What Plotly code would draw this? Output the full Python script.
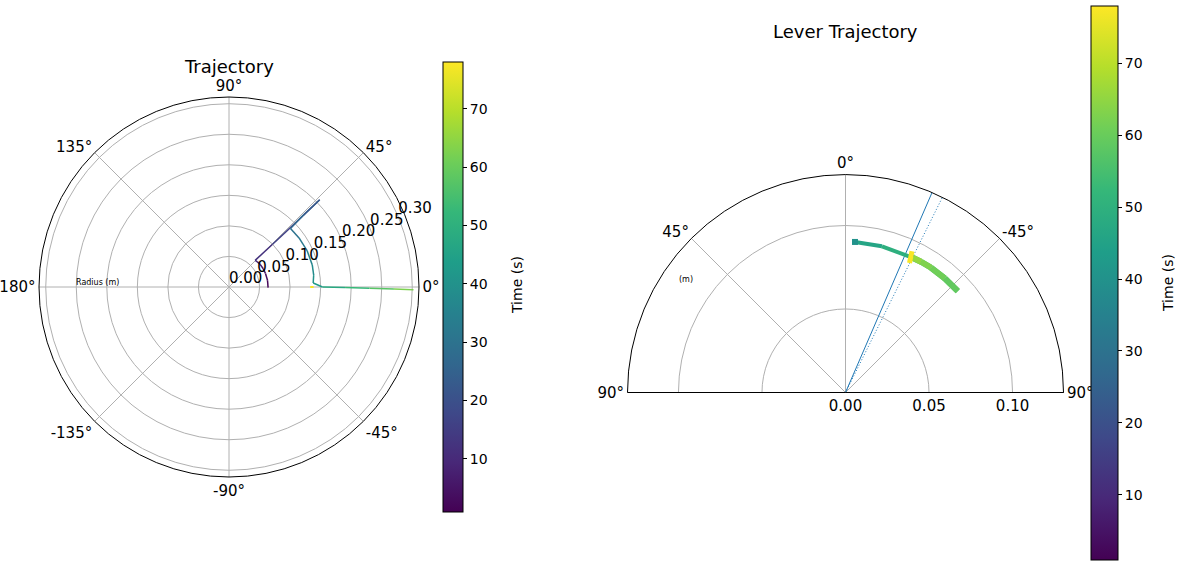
import plotly.graph_objects as go
from plotly.colors import sample_colorscale

# ---------------- data ----------------
T_MIN, T_MAX = 0.9, 78.0
cbar_ticks = [10, 20, 30, 40, 50, 60, 70]

# Left: end-effector trajectory (theta in deg, r in m, time in s)
traj_theta = [-1, 10, 20, 28, 36, 42, 45.5, 44.5, 44, 43.9, 44, 43.6, 43.6, 35, 25, 15, 8, 2.7, 0, -0.3, -0.5, -0.7, -0.85]
traj_r     = [0.064, 0.064, 0.0637, 0.0635, 0.063, 0.062, 0.061, 0.10, 0.15, 0.206, 0.17, 0.139, 0.139, 0.140, 0.141, 0.141, 0.140, 0.138, 0.153, 0.19, 0.23, 0.27, 0.302]
traj_time  = [1, 3, 4.5, 6, 7.5, 9, 10, 14, 18, 21, 25, 28, 29, 31, 34, 37, 39, 41, 45, 50, 55, 60, 65]
traj_end_theta = [0, 0]
traj_end_r     = [0.1385, 0.133]
traj_end_time  = [77, 78]

# Right: lever trajectory
lever_theta = [-3.6, -14, -25.5, -30, -34.5, -41, -47.9, -41, -34.5, -30, -26.6]
lever_r     = [0.0903, 0.0902, 0.0900, 0.0904, 0.0906, 0.0906, 0.0906, 0.0906, 0.0906, 0.0904, 0.0902]
lever_time  = [44, 48, 51, 53, 55, 57, 58, 60, 62, 64, 67]
lever_width = [4, 4, 6, 6, 6, 6, 6, 6, 6, 6]
lever_end_theta = [-25.2, -26.3]
lever_end_r     = [0.0935, 0.0865]
lever_end_time  = [77, 78]
ref_theta = [-23.4, -26.4]
ref_r_max = [0.1305, 0.1305]
ref_dash = ["solid", "1px,2px"]

left_r_max = 0.311
right_r_max = 0.1305
left_ang_vals = [0, 45, 90, 135, 180, 225, 270, 315]
left_ang_text = ["0°", "45°", "90°", "135°", "180°", "-135°", "-90°", "-45°"]
left_r_ticks = [0.00, 0.05, 0.10, 0.15, 0.20, 0.25, 0.30]
right_ang_vals = [-90, -45, 0, 45, 90]
right_ang_text = ["90°", "-45°", "0°", "45°", "90°"]
right_r_ticks = [0.00, 0.05, 0.10]

FONT = "DejaVu Sans"
GRID = "#b0b0b0"
LEFT_RLABEL_ANGLE = 22.5


def tcolor(t):
    return sample_colorscale("Viridis", [(t - T_MIN) / (T_MAX - T_MIN)])[0]


fig = go.Figure()


def add_path(th, rr, tt, subplot, widths=None, default_w=1.5):
    for i in range(len(th) - 1):
        w = widths[i] if widths else default_w
        fig.add_trace(go.Scatterpolar(
            theta=[th[i], th[i + 1]], r=[rr[i], rr[i + 1]], mode="lines",
            line=dict(color=tcolor((tt[i] + tt[i + 1]) / 2), width=w),
            subplot=subplot, showlegend=False, hoverinfo="skip"))


add_path(traj_theta, traj_r, traj_time, "polar")
add_path(traj_end_theta, traj_end_r, traj_end_time, "polar", default_w=2)

for th, rm, d in zip(ref_theta, ref_r_max, ref_dash):
    fig.add_trace(go.Scatterpolar(theta=[th, th], r=[0, rm], mode="lines",
                                  line=dict(color="#1f77b4", width=1, dash=d),
                                  subplot="polar2", showlegend=False, hoverinfo="skip"))

add_path(lever_theta, lever_r, lever_time, "polar2", widths=lever_width)
add_path(lever_end_theta, lever_end_r, lever_end_time, "polar2", default_w=5)
fig.add_trace(go.Scatterpolar(theta=[lever_theta[0]], r=[lever_r[0]], mode="markers",
                              marker=dict(symbol="square", size=6, color=tcolor(40)),
                              subplot="polar2", showlegend=False, hoverinfo="skip"))

tickfont = dict(family=FONT, size=15, color="black")

# radial tick labels (matplotlib-style, to the upper right of each ring)
fig.add_trace(go.Scatterpolar(theta=[LEFT_RLABEL_ANGLE] * len(left_r_ticks), r=left_r_ticks,
                              mode="text", text=[f"{v:.2f}" for v in left_r_ticks],
                              textposition="top right", textfont=tickfont, cliponaxis=False,
                              subplot="polar", showlegend=False, hoverinfo="skip"))

# colorbars
cb_common = dict(xanchor="left", xpad=0, ypad=0, lenmode="pixels", thicknessmode="pixels",
                 outlinewidth=1, outlinecolor="black", ticks="outside", ticklen=4,
                 tickcolor="black", tickvals=cbar_ticks,
                 tickfont=dict(family=FONT, size=14, color="black"))
fig.add_trace(go.Scatterpolar(theta=[0, 0], r=[0, 0], mode="markers",
                              marker=dict(size=1, opacity=0, color=[T_MIN, T_MAX], colorscale="Viridis",
                                          cmin=T_MIN, cmax=T_MAX, showscale=True,
                                          colorbar=dict(x=443 / 1181, y=(561 - 287) / 561, len=450,
                                                        thickness=20, **cb_common)),
                              subplot="polar", showlegend=False, hoverinfo="skip"))
fig.add_trace(go.Scatterpolar(theta=[0, 0], r=[0, 0], mode="markers",
                              marker=dict(size=1, opacity=0, color=[T_MIN, T_MAX], colorscale="Viridis",
                                          cmin=T_MIN, cmax=T_MAX, showscale=True,
                                          colorbar=dict(x=1091 / 1181, y=(561 - 283) / 561, len=554,
                                                        thickness=27, **cb_common)),
                              subplot="polar2", showlegend=False, hoverinfo="skip"))


def ann(text, x, y, size, angle=0):
    return dict(text=text, x=x / 1181, y=(561 - y) / 561, xref="paper", yref="paper",
                showarrow=False, xanchor="center", yanchor="middle", textangle=angle,
                font=dict(family=FONT, size=size, color="black"))


fig.update_layout(
    width=1181, height=561, margin=dict(l=0, r=0, t=0, b=0),
    paper_bgcolor="white", plot_bgcolor="white",
    font=dict(family=FONT, size=14, color="black"),
    polar=dict(
        domain=dict(x=[39 / 1181, 419 / 1181], y=[(561 - 477) / 561, (561 - 97) / 561]),
        bgcolor="white",
        angularaxis=dict(rotation=0, direction="counterclockwise", tickmode="array",
                         tickvals=left_ang_vals, ticktext=left_ang_text, ticks="",
                         showline=True, linecolor="black", linewidth=1,
                         gridcolor=GRID, gridwidth=0.8, tickfont=tickfont),
        radialaxis=dict(range=[0, left_r_max], tickmode="array", tickvals=left_r_ticks,
                        showticklabels=False, angle=LEFT_RLABEL_ANGLE,
                        showline=False, ticks="", gridcolor=GRID, gridwidth=0.8),
    ),
    polar2=dict(
        domain=dict(x=[627.5 / 1181, 1063.5 / 1181], y=[(561 - 392.5) / 561, (561 - 174.5) / 561]),
        bgcolor="white", sector=[0, 180],
        angularaxis=dict(rotation=90, direction="counterclockwise", tickmode="array",
                         tickvals=right_ang_vals, ticktext=right_ang_text, ticks="",
                         showline=True, linecolor="black", linewidth=1,
                         gridcolor=GRID, gridwidth=0.8, tickfont=tickfont),
        radialaxis=dict(range=[0, right_r_max], tickmode="array", tickvals=right_r_ticks,
                        ticktext=[f"{v:.2f}" for v in right_r_ticks], angle=0, tickangle=0,
                        side="clockwise", showline=True, linecolor="black", linewidth=1, ticks="",
                        gridcolor=GRID, gridwidth=0.8, tickfont=tickfont),
    ),
    annotations=[
        ann("Trajectory", 229, 66, 18),
        ann("Lever Trajectory", 845, 32, 18),
        ann("Radius (m)", 97, 282, 8),
        ann("(m)", 686, 279, 8),
        ann("Time (s)", 517, 285, 14, -90),
        ann("Time (s)", 1168, 283, 14, -90),
    ],
)

fig.write_html("out.html")
